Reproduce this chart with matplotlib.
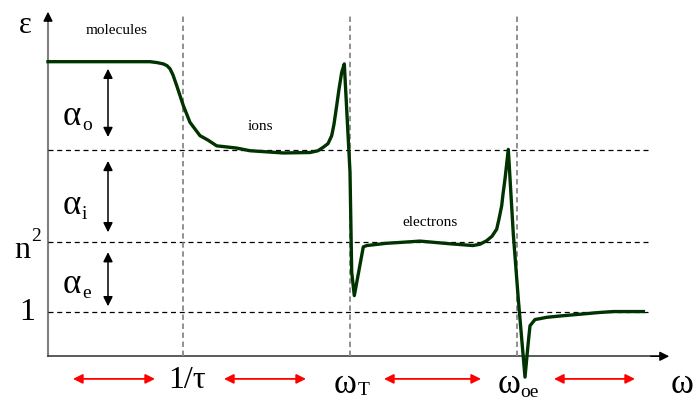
import matplotlib.pyplot as plt

plt.rcParams["font.family"] = ["Liberation Serif", "DejaVu Serif"]

# epsilon(omega) curve, arbitrary frequency units
w = [0, 102, 109, 115.3, 119, 122, 125, 128.7, 135.3, 142, 152, 160, 168.7, 177,
     188.7, 202, 235.3, 262, 270, 275.3, 280, 283.7, 286, 288.7, 291, 293.7, 296.3,
     302, 303.7, 306.3, 315.3, 318.7, 338, 352, 372, 392, 402, 425, 432, 438.7,
     444, 448.7, 451, 453.7, 455, 457, 460.3, 465.3, 470.3, 477, 480.3, 482, 487,
     492, 498.7, 512, 532, 552, 565.3, 582, 595.3]
eps = [6.65, 6.65, 6.63, 6.60, 6.56, 6.49, 6.35, 6.11, 5.66, 5.28, 4.98, 4.88,
       4.75, 4.73, 4.70, 4.64, 4.59, 4.60, 4.64, 4.72, 4.80, 4.98, 5.24, 5.66,
       6.03, 6.41, 6.60, 4.16, 1.90, 1.37, 2.47, 2.50, 2.55, 2.57, 2.60, 2.56,
       2.54, 2.50, 2.53, 2.61, 2.71, 2.87, 3.10, 3.40, 3.66, 4.00, 4.67, 2.76,
       1.29, -0.47, 0.32, 0.69, 0.83, 0.85, 0.88, 0.91, 0.95, 0.99, 1.01, 1.01, 1.01]

# reference levels
levels = [1.0, 2.57, 4.66]

# characteristic frequencies
freqs = [135.5, 302, 469.5]
freq_names = ["1/τ", "ω", "ω"]
freq_subs = ["", "T", "oe"]

# polarisation contributions (top, bottom of arrow)
alpha_spans = [(6.49, 4.95), (4.41, 2.80), (2.35, 1.13)]
alpha_subs = ["o", "i", "e"]
alpha_label_y = [5.44, 3.42, 1.65]

# frequency ranges under the axis
ranges = [(25, 107), (176, 258), (336, 433), (506, 587)]

mechanisms = ["molecules", "ions", "electrons"]
mech_pos = [(69, 7.38), (212, 5.20), (382, 3.05)]

fig = plt.figure(figsize=(6.94, 4.02), dpi=100)
ax = fig.add_axes([0, 0, 1, 1])
ax.set_xlim(-48, 646)
ax.set_ylim(-1.009, 8.065)
ax.axis("off")

# axes with arrows
ax.plot([0, 0], [0, 7.7], color="#808080", lw=1.5)
ax.plot([0, 615], [0, 0], color="#404040", lw=1.2)
ax.annotate("", xy=(0, 7.84), xytext=(0, 7.5),
            arrowprops=dict(arrowstyle="-|>", color="black", lw=1, mutation_scale=14))
ax.annotate("", xy=(624, 0), xytext=(600, 0),
            arrowprops=dict(arrowstyle="-|>", color="black", lw=1, mutation_scale=14))

# dashed guides
for lv in levels:
    ax.plot([0, 602], [lv, lv], color="black", lw=0.9, ls=(0, (4, 3)))
for f in freqs:
    ax.plot([f, f], [0, 7.68], color="#888888", lw=1.3, ls=(0, (3, 2)))

# curve
ax.plot(w, eps, color="#003300", lw=2.4, solid_joinstyle="round")

# level labels
ax.text(-13, 1.0, "1", fontsize=23, ha="right", va="center")
ax.text(-18, 2.42, "n", fontsize=23, ha="right", va="center")
ax.text(-17, 2.72, "2", fontsize=14, ha="left", va="center")
ax.text(-23, 7.48, "ε", fontsize=22, ha="center", va="center")

# alpha arrows and labels
for (top, bot), sub, ly in zip(alpha_spans, alpha_subs, alpha_label_y):
    ax.annotate("", xy=(60, top), xytext=(60, bot),
                arrowprops=dict(arrowstyle="<|-|>", color="black", lw=1.1,
                                mutation_scale=14, shrinkA=0, shrinkB=0))
    ax.text(24, ly, "α", fontsize=25, ha="center", va="center")
    ax.text(34, ly - 0.2, sub, fontsize=14, ha="left", va="center")

# mechanism names
for name, (x, y) in zip(mechanisms, mech_pos):
    ax.text(x, y, name, fontsize=11, ha="center", va="center")

# frequency labels
ax.text(freqs[0] + 4, -0.52, freq_names[0], fontsize=23, ha="center", va="center")
ax.text(freqs[1] - 5, -0.62, freq_names[1], fontsize=25, ha="center", va="center")
ax.text(freqs[1] + 8, -0.74, freq_subs[1], fontsize=14, ha="left", va="center")
ax.text(freqs[2] - 8, -0.62, freq_names[2], fontsize=25, ha="center", va="center")
ax.text(freqs[2] + 3, -0.80, freq_subs[2], fontsize=14, ha="left", va="center")
ax.text(634, -0.62, "ω", fontsize=25, ha="center", va="center")

# red range arrows
for a, b in ranges:
    ax.annotate("", xy=(b, -0.51), xytext=(a, -0.51),
                arrowprops=dict(arrowstyle="<|-|>", color="red", lw=1.3,
                                mutation_scale=14, shrinkA=0, shrinkB=0))

fig.savefig("out.png", dpi=100)
